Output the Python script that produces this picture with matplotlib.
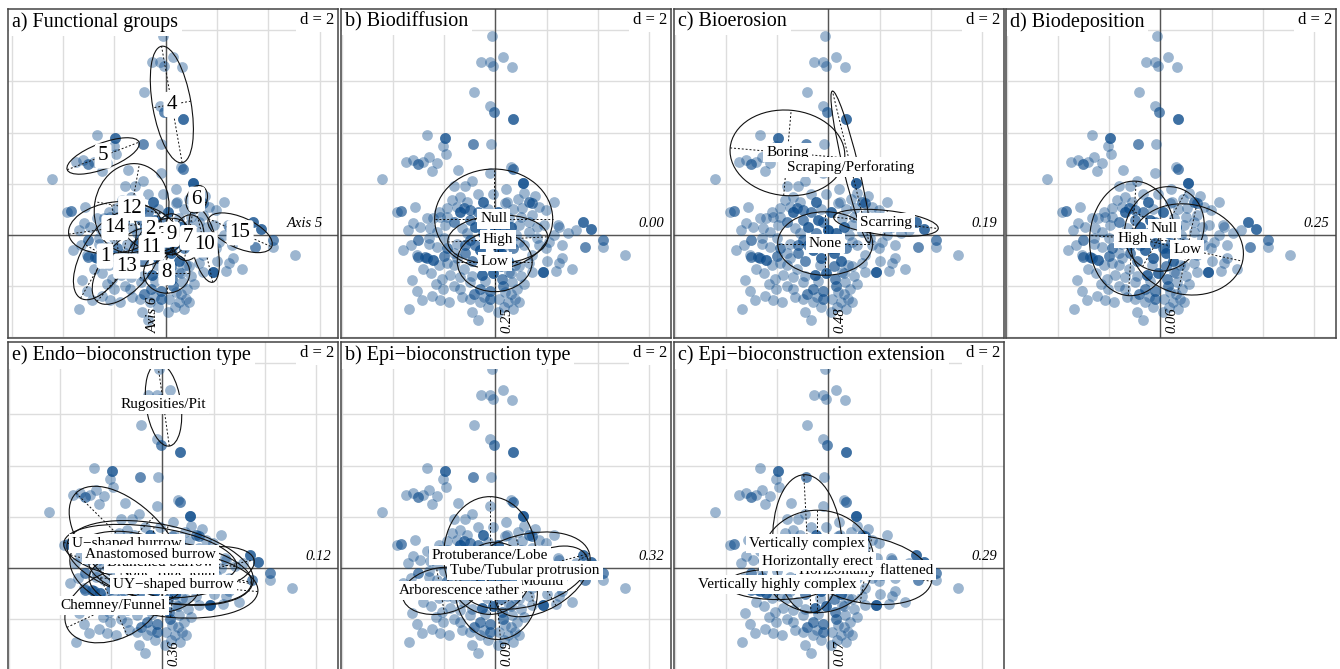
import numpy as np
import matplotlib.pyplot as plt
from matplotlib.patches import Ellipse

plt.rcParams['font.family'] = ['Liberation Serif', 'DejaVu Serif']

# species scores on the two axes and number of species sharing a position
sp_x = [-0.12, 0.29, -0.55, -0.22, -0.08, 0.64, -0.85, -0.22, -0.07, 0.68,
        -2.68, -1.96, -2.03, -1.92, -0.88, -0.17, -3.50, -3.23, -3.03, -2.81,
        -2.58, -2.29, -2.47, -1.48, 0.69, 0.60, -4.44, -0.20, 1.07,
        1.11, 0.89, 1.54, 2.29, 1.44, 0.39, 1.96, 1.70, 1.31, 0.46,
        1.05, 1.44, 0.52, 1.31, 1.63, 2.48, 2.29, 2.81, 3.14, 3.40,
        3.73, 4.18, 4.20, 3.50, 5.05, 2.61, 2.48, 2.35, 2.98, 1.85,
        1.44, 1.96, 2.09, 1.70, 1.44, 0.78, 0.52, 0.26, 0.65, 0.39,
        0.78, 0.13, 0.85, 0.26, 0.91, 1.29, 2.42,
        -3.85, -3.69, -3.14, -3.20, -2.68, -2.94, -3.03, -3.03, -2.75, -2.42,
        -2.81, -3.27, -3.07, -2.88, -3.37, -2.48, -2.16, -2.03, -0.91, -1.76,
        -1.89, -2.29, -1.70, -1.37, -0.98, -1.24, -1.89, -2.16, -2.42, -2.55,
        -2.29, -1.96, -1.63, -1.31, -0.98, -2.61, -2.00, -1.89, -1.50, -3.07,
        -2.68, -2.22, -1.63, -1.24, -1.37, -0.98, -0.59, -0.85, -0.46, -0.20,
        -0.52, -0.33,
        -0.80, -0.40, 0.00, -0.20, -0.60, 0.30, -1.00, -0.50, 0.10, -0.30,
        0.20, -0.70, -0.10, 0.40, -1.20, -0.90, -1.60, -1.40, 0.60, 0.70,
        -1.20, 0.50, -0.10,
        -0.90, -0.40, -0.20, 0.30, 0.60, 0.90, -0.60, 0.35, 0.10, 0.70,
        -1.30, -1.60, 1.00, 1.30, 1.10, 0.90, 2.00, -3.30, -1.10,
        -2.20, -1.90, -1.50, -1.10, -0.70, -0.30, -2.60, -2.00, -1.60, -1.20,
        -0.80, -0.90, -1.50, -2.50, -2.10, -1.40, -1.00, -0.30, 0.50, 0.20,
        0.60, 0.90, 0.40, 0.80, 1.00, 0.70, 1.60, 1.90, 2.60, 1.10,
        -0.50, -0.20, 0.10, -3.40, -3.60, -2.30, -1.80, -0.70]
sp_y = [7.78, 6.95, 6.77, 6.76, 6.60, 6.56, 5.58, 5.03, 4.81, 4.55,
        3.92, 3.78, 3.49, 3.16, 3.57, 3.57, 2.84, 2.94, 2.77, 2.87,
        3.06, 2.80, 2.52, 2.54, 2.59, 2.64, 2.18, 2.42, 2.03,
        1.63, 1.40, 1.53, 1.31, 1.24, 1.24, 0.98, 1.11, 1.31, 1.31,
        1.05, 0.78, 0.65, 0.52, 0.33, 0.33, 0.00, 0.07, 0.20, 0.52,
        0.22, -0.20, -0.45, -0.48, -0.78, -0.88, -1.11, -1.41, -1.33, -1.45,
        -1.44, -0.52, -0.26, -0.39, -0.78, -1.18, -1.44, -1.70, -1.83, -2.22,
        -2.48, -2.48, -2.09, -0.52, -0.26, 0.13, 0.40,
        0.89, 0.94, 1.11, 0.46, 0.65, 0.33, -0.20, -0.85, -0.85, -0.98,
        -1.31, -1.74, -2.18, -2.52, -2.89, -2.38, -2.52, -2.09, -3.01, -1.57,
        -1.11, -0.46, 1.37, 1.50, 0.98, 1.05, 1.05, 0.72, 0.65, 0.26,
        0.13, 0.39, 0.52, 0.26, 0.59, -0.33, -0.10, -0.52, -0.33, -0.78,
        -0.91, -1.18, -1.18, -1.31, -1.63, -1.83, -2.09, -2.29, -2.42, -2.48,
        -1.57, -1.18,
        0.30, 0.60, 0.20, -0.30, -0.60, 0.10, -0.20, 1.30, 0.90, -0.90,
        -0.70, 1.60, 1.60, 1.80, 1.90, 2.10, 1.90, 0.90, 0.30, -0.50,
        -0.70, -1.00, -1.50,
        -1.60, -1.80, -2.20, -2.00, -2.30, -2.60, -2.60, -2.80, -3.00, -2.90,
        -2.40, -2.00, -1.60, -1.10, -0.40, 0.40, -1.00, -0.40, 0.10,
        0.90, 0.70, 1.10, 1.30, 0.90, 1.00, -0.10, -0.80, -0.70, -0.40,
        -0.40, -1.00, -0.90, -1.50, -1.70, -2.10, -2.50, -2.80, -2.60, -1.20,
        -1.50, -1.20, -0.30, 0.00, 0.70, 1.00, -0.10, 0.40, -0.40, -1.90,
        0.10, 0.50, -0.50, 0.20, -0.60, -1.90, -2.60, -3.30]
sp_n = [1, 1, 1, 1, 1, 1, 1, 1, 2, 3,
        1, 3, 1, 1, 2, 1, 1, 1, 2, 1,
        1, 1, 1, 1, 2, 1, 1, 1, 4,
        1, 1, 1, 1, 2, 1, 1, 1, 2, 1,
        1, 1, 1, 1, 1, 1, 1, 1, 1, 3,
        3, 2, 1, 2, 1, 1, 1, 1, 1, 4,
        1, 1, 1, 1, 1, 1, 1, 2, 1, 1,
        1, 1, 1, 1, 1, 1, 1,
        1, 2, 1, 1, 1, 1, 2, 2, 2, 3,
        1, 1, 1, 1, 1, 1, 1, 1, 1, 1,
        1, 1, 1, 1, 2, 2, 1, 1, 1, 1,
        1, 1, 2, 1, 2, 1, 1, 2, 1, 1,
        2, 1, 1, 1, 1, 1, 2, 2, 1, 2,
        3, 1,
        3, 3, 4, 3, 3, 3, 2, 3, 3, 3,
        3, 1, 1, 1, 1, 1, 1, 3, 3, 2,
        2, 3, 3,
        1, 1, 2, 2, 1, 1, 1, 1, 1, 1,
        1, 1, 1, 1, 1, 1, 1, 1, 1,
        1, 1, 1, 1, 2, 1, 1, 2, 1, 2,
        2, 2, 1, 1, 1, 1, 1, 1, 1, 2,
        1, 1, 2, 1, 1, 1, 1, 1, 1, 1,
        2, 2, 2, 1, 1, 1, 1, 1]

# a) functional groups
fg_labels = ['1', '3', '2', '4', '5', '6', '7', '8', '9', '10', '11', '12', '13', '14', '15']
fg_cx = [-2.37, -0.10, -0.61, 0.24, -2.44, 1.21, 0.88, 0.04, 0.23, 1.50, -0.55, -1.33, -1.52, -1.98, 2.90]
fg_cy = [-0.82, 0.00, 0.22, 5.10, 3.09, 1.40, -0.10, -1.47, 0.03, -0.38, -0.49, 1.05, -1.21, 0.29, 0.09]
fg_a = [1.90, 1.00, 1.30, 2.31, 1.50, 0.55, 0.90, 0.90, 0.80, 1.50, 1.00, 1.75, 1.80, 1.82, 1.35]
fg_b = [0.90, 0.60, 0.80, 0.75, 0.50, 0.40, 0.60, 0.80, 0.60, 0.50, 0.60, 1.45, 0.90, 1.00, 0.60]
fg_ang = [60, 20, -30, 100, 21, 70, 80, 0, 90, 103, 30, 80, 50, 8, -24]

# b) biodiffusion
bd_labels = ['Null', 'High', 'Low']
bd_cx = [-0.07, 0.09, -0.03]
bd_cy = [0.63, -0.17, -1.04]
bd_a = [2.30, 1.95, 1.46]
bd_b = [1.95, 0.95, 1.17]
bd_ang = [0, 3, 0]

# c) bioerosion
be_labels = ['Boring', 'Scraping/Perforating', 'Scarring', 'None']
be_cx = [-1.60, 0.87, 2.24, -0.13]
be_cy = [3.21, 2.66, 0.48, -0.33]
be_a = [2.24, 3.05, 2.05, 1.85]
be_b = [1.67, 0.30, 0.48, 1.24]
be_ang = [-5, 103.6, -6.3, 0]

# d) biodeposition
bp_labels = ['Null', 'High', 'Low']
bp_cx = [0.15, -1.10, 1.04]
bp_cy = [0.24, -0.13, -0.56]
bp_a = [1.70, 2.24, 2.21]
bp_b = [1.50, 1.66, 1.76]
bp_ang = [60, 86, -12]

# e) endo-bioconstruction type
en_labels = ['None', 'Radial', 'Tube', 'Branched burrow', 'U\u2212shaped burrow',
             'Anastomosed burrow', 'UY\u2212shaped burrow', 'Chemney/Funnel', 'Rugosities/Pit']
en_cx = [-1.07, 1.32, 0.30, -0.09, -1.39, -0.48, 0.43, -1.91, 0.04]
en_cy = [-0.16, -0.16, -0.16, 0.20, 0.95, 0.52, -0.63, -1.47, 6.38]
en_a = [2.60, 2.30, 3.20, 3.70, 2.80, 3.40, 3.30, 2.00, 1.63]
en_b = [1.50, 0.90, 1.20, 1.50, 1.50, 1.10, 1.30, 1.30, 0.68]
en_ang = [-15, 12, -8, -12, -45, -8, -5, 25, 98]

# f) epi-bioconstruction type
et_labels = ['Mound', 'Feather', 'Protuberance/Lobe', 'Tube/Tubular protrusion', 'Arborescence']
et_cx = [1.81, 0.03, -0.22, 1.15, -2.14]
et_cy = [-0.52, -0.89, 0.49, -0.10, -0.89]
et_a = [2.00, 1.90, 2.30, 2.60, 1.50]
et_b = [1.10, 1.60, 1.80, 1.40, 0.90]
et_ang = [30, 95, 90, 15, 10]

# g) epi-bioconstruction extension
ex_labels = ['Horizontally flattened', 'Vertically complex', 'Horizontally erect', 'Vertically highly complex']
ex_cx = [1.46, -0.82, -0.43, -1.99]
ex_cy = [-0.07, 0.95, 0.26, -0.63]
ex_a = [2.60, 2.70, 2.20, 2.00]
ex_b = [1.30, 1.35, 2.00, 0.60]
ex_ang = [-10, 93, 0, 0]

px = np.repeat(sp_x, sp_n)
py = np.repeat(sp_y, sp_n)

W, H = 1340, 669
fig = plt.figure(figsize=(W / 100, H / 100), dpi=100)


def make_axes(left, top, w=330, h=329):
    return fig.add_axes([left / W, 1 - (top + h) / H, w / W, h / H])


def draw_panel(ax, title, labels, cx, cy, sa, sb, ang, xlab, ylab,
               xlim=(-6.02, 6.84), ylim=(-4.02, 8.83), lab_size=11, axis_names=False):
    ax.set_xlim(xlim)
    ax.set_ylim(ylim)
    ax.set_xticks([])
    ax.set_yticks([])
    for s in ax.spines.values():
        s.set_color('#444444')
        s.set_linewidth(1.1)
        s.set_zorder(10)
    for g in range(-6, 9, 2):
        ax.axvline(g, color='#dddddd', lw=1, zorder=0)
        ax.axhline(g, color='#dddddd', lw=1, zorder=0)
    ax.axvline(0, color='#555555', lw=1, zorder=1)
    ax.axhline(0, color='#555555', lw=1, zorder=1)
    ax.scatter(px, py, s=60, color='#0a4a8a', alpha=0.40, linewidths=0, zorder=2)

    for x0, y0, a, b, t in zip(cx, cy, sa, sb, ang):
        ax.add_patch(Ellipse((x0, y0), 2 * a, 2 * b, angle=t, fill=False,
                             ec='#111111', lw=0.8, zorder=3))
        r = np.deg2rad(t)
        for ln, th in ((a, r), (b, r + np.pi / 2)):
            dx, dy = ln * np.cos(th), ln * np.sin(th)
            ax.plot([x0 - dx, x0 + dx], [y0 - dy, y0 + dy], color='#111111',
                    lw=0.7, ls=(0, (2, 2)), zorder=3)

    for lab, x0, y0 in zip(labels, cx, cy):
        if axis_names:
            box = dict(boxstyle='round,pad=0.15', fc='white', ec='none')
        else:
            box = dict(boxstyle='square,pad=0.2', fc='white', ec='none')
        ax.text(x0, y0, lab, ha='center', va='center', fontsize=lab_size,
                bbox=box, zorder=5)

    ax.text(0.013, 0.99, title, transform=ax.transAxes, ha='left', va='top',
            fontsize=14.5, bbox=dict(boxstyle='square,pad=0.18', fc='white', ec='none'),
            zorder=6)
    ax.text(0.99, 0.99, 'd = 2', transform=ax.transAxes, ha='right', va='top',
            fontsize=12, bbox=dict(boxstyle='square,pad=0.25', fc='white', ec='none'),
            zorder=6)

    if axis_names:
        ax.text(0.955, 0.2, xlab, ha='right', va='bottom', fontsize=10.5,
                style='italic', transform=ax.get_yaxis_transform(), zorder=6)
        ax.text(-0.22, 0.015, ylab, ha='right', va='bottom', fontsize=10.5,
                style='italic', rotation=90, transform=ax.get_xaxis_transform(), zorder=6)
    else:
        ax.text(0.978, 0.2, xlab, ha='right', va='bottom', fontsize=10.5,
                style='italic', transform=ax.get_yaxis_transform(), zorder=6)
        ax.text(0.2, 0.015, ylab, ha='left', va='bottom', fontsize=10.5,
                style='italic', rotation=90, transform=ax.get_xaxis_transform(), zorder=6)


ax = make_axes(8, 9)
draw_panel(ax, 'a) Functional groups', fg_labels, fg_cx, fg_cy, fg_a, fg_b, fg_ang,
           'Axis 5', 'Axis 6', xlim=(-6.15, 6.72), lab_size=15, axis_names=True)

ax = make_axes(341, 9)
draw_panel(ax, 'b) Biodiffusion', bd_labels, bd_cx, bd_cy, bd_a, bd_b, bd_ang, '0.00', '0.25')

ax = make_axes(674, 9)
draw_panel(ax, 'c) Bioerosion', be_labels, be_cx, be_cy, be_a, be_b, be_ang, '0.19', '0.48')

ax = make_axes(1006, 9)
draw_panel(ax, 'd) Biodeposition', bp_labels, bp_cx, bp_cy, bp_a, bp_b, bp_ang, '0.25', '0.06')

ax = make_axes(8, 342)
draw_panel(ax, 'e) Endo\u2212bioconstruction type', en_labels, en_cx, en_cy, en_a, en_b, en_ang,
           '0.12', '0.36')

ax = make_axes(341, 342)
draw_panel(ax, 'b) Epi\u2212bioconstruction type', et_labels, et_cx, et_cy, et_a, et_b, et_ang,
           '0.32', '0.09')

ax = make_axes(674, 342)
draw_panel(ax, 'c) Epi\u2212bioconstruction extension', ex_labels, ex_cx, ex_cy, ex_a, ex_b, ex_ang,
           '0.29', '0.07')

fig.savefig('out.png', dpi=100)
